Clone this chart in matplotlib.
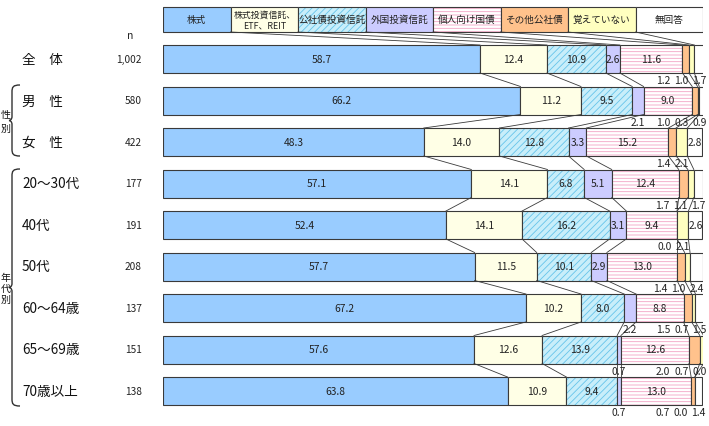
import numpy as np
import matplotlib
matplotlib.use('Agg')
import matplotlib.pyplot as plt
from matplotlib import transforms
from matplotlib.path import Path
from matplotlib.patches import PathPatch

plt.rcParams['font.family'] = ['Noto Sans CJK JP', 'DejaVu Sans']
plt.rcParams['hatch.linewidth'] = 0.6

# ---------------- data ----------------
categories = ['株式', '株式投資信託、\nETF、REIT', '公社債投資信託', '外国投資信託',
              '個人向け国債', 'その他公社債', '覚えていない', '無回答']
row_labels = ['全　体', '男　性', '女　性', '20～30代', '40代', '50代',
              '60～64歳', '65～69歳', '70歳以上']
n_values = ['1,002', '580', '422', '177', '191', '208', '137', '151', '138']
kabushiki = [58.7, 66.2, 48.3, 57.1, 52.4, 57.7, 67.2, 57.6, 63.8]
kabu_toushin = [12.4, 11.2, 14.0, 14.1, 14.1, 11.5, 10.2, 12.6, 10.9]
koshasai_toushin = [10.9, 9.5, 12.8, 6.8, 16.2, 10.1, 8.0, 13.9, 9.4]
gaikoku_toushin = [2.6, 2.1, 3.3, 5.1, 3.1, 2.9, 2.2, 0.7, 0.7]
kojin_kokusai = [11.6, 9.0, 15.2, 12.4, 9.4, 13.0, 8.8, 12.6, 13.0]
sonota_koshasai = [1.2, 1.0, 1.4, 1.7, 0.0, 1.4, 1.5, 2.0, 0.7]
oboete_inai = [1.0, 0.3, 2.1, 1.1, 2.1, 1.0, 0.7, 0.7, 0.0]
mukaito = [1.7, 0.9, 2.8, 1.7, 2.6, 2.4, 1.5, 0.0, 1.4]
group_labels = ['性\n別', '年\n代\n別']

series = [kabushiki, kabu_toushin, koshasai_toushin, gaikoku_toushin,
          kojin_kokusai, sonota_koshasai, oboete_inai, mukaito]

# ---------------- style ----------------
faces = ['#99CCFF', '#FFFFE6', '#C8EEFA', '#CCCCFF', '#FFFFFF', '#FFC28C', '#FFFFC0', '#FFFFFF']
hatches = [None, None, '/////', None, '-----', None, None, None]
hatch_cols = [None, None, '#66C4EA', None, '#F3A2C4', None, None, None]
edge = '#3A3A3A'

W, H = 709, 427
fig = plt.figure(figsize=(W / 100, H / 100), dpi=100)
fig.patch.set_facecolor('white')

ov = fig.add_axes([0, 0, 1, 1])
ov.set_xlim(0, W)
ov.set_ylim(H, 0)
ov.axis('off')

row_y0, row_step = 60.0, 41.5
ax = fig.add_axes([163 / W, 0, 540 / W, 1])
ax.set_xlim(0, 100)
ax.set_ylim((H - row_y0) / row_step, -row_y0 / row_step)
ax.axis('off')
ax.patch.set_alpha(0)

nrow = len(row_labels)
y = np.arange(nrow)
bh = 28 / row_step
data = np.array(series)  # (8, nrow)
cum = np.vstack([np.zeros(nrow), np.cumsum(data, axis=0)])  # (9, nrow)

# legend boxes (as bars)
leg_y = (20.5 - row_y0) / row_step
leg_h = 25 / row_step
leg_w = 100 / len(categories)
for k, cat in enumerate(categories):
    kw = dict(height=leg_h, left=k * leg_w, color=faces[k], linewidth=0)
    if hatches[k]:
        kw.update(hatch=hatches[k], edgecolor=hatch_cols[k])
    ax.barh(leg_y, leg_w, **kw)
    ax.barh(leg_y, leg_w, height=leg_h, left=k * leg_w, fill=False,
            edgecolor=edge, linewidth=0.8)
    fs = 6.4 if '\n' in cat else 6.9
    ax.text(k * leg_w + leg_w / 2, leg_y, cat, ha='center', va='center',
            fontsize=fs, color='#222222', linespacing=1.25)

# bars
for j in range(len(series)):
    kw = dict(height=bh, left=cum[j], color=faces[j], linewidth=0)
    if hatches[j]:
        kw.update(hatch=hatches[j], edgecolor=hatch_cols[j])
    ax.barh(y, data[j], **kw)
    ax.barh(y, data[j], height=bh, left=cum[j], fill=False,
            edgecolor=edge, linewidth=0.8)

# connector lines
lc = dict(color='#3A3A3A', linewidth=0.6, zorder=1)
for k in range(1, len(series)):
    ax.plot([k * leg_w, cum[k, 0]], [leg_y + leg_h / 2, 0 - bh / 2], **lc)
    for i in range(nrow - 1):
        ax.plot([cum[k, i], cum[k, i + 1]], [i + bh / 2, i + 1 - bh / 2], **lc)

# value labels
gap = 18 / 5.4
for i in range(nrow):
    small = []
    for j in range(len(series)):
        v = data[j, i]
        c = cum[j, i] + v / 2
        if v >= 2.5:
            ax.text(c, i, f'{v:.1f}', ha='center', va='center',
                    fontsize=7.4, color='#222222')
        else:
            small.append((c, v))
    xs = [0] * len(small)
    nxt = 99.3 + gap
    for m in range(len(small) - 1, -1, -1):
        xs[m] = min(small[m][0], nxt - gap, 99.3)
        nxt = xs[m]
    for (c, v), xx in zip(small, xs):
        ax.text(xx, i + bh / 2 + 0.18, f'{v:.1f}', ha='center', va='center',
                fontsize=7.4, color='#222222')

# left labels
trans = transforms.blended_transform_factory(ov.transData, ax.transData)
for i in range(nrow):
    ax.text(22, i, row_labels[i], transform=trans, ha='left', va='center',
            fontsize=9.8, color='#111111')
    ax.text(142, i, n_values[i], transform=trans, ha='right', va='center',
            fontsize=7.3, color='#222222')
ov.text(130, 36, 'n', ha='center', va='center', fontsize=7.5, color='#222222')


def brace(top, bot, xv=12, xh=20, xn=9):
    mid = (top + bot) / 2
    verts = [(xh, top), (xv + 1, top), (xv, top + 2), (xv, top + 7),
             (xv, mid - 4),
             (xv, mid - 1), (xn + 1, mid), (xn, mid),
             (xn + 1, mid), (xv, mid + 1), (xv, mid + 4),
             (xv, bot - 7),
             (xv, bot - 2), (xv + 1, bot), (xh, bot)]
    codes = [Path.MOVETO, Path.CURVE4, Path.CURVE4, Path.CURVE4,
             Path.LINETO,
             Path.CURVE4, Path.CURVE4, Path.CURVE4,
             Path.CURVE4, Path.CURVE4, Path.CURVE4,
             Path.LINETO,
             Path.CURVE4, Path.CURVE4, Path.CURVE4]
    ov.add_patch(PathPatch(Path(verts, codes), facecolor='none',
                           edgecolor='#333333', linewidth=1.0))

brace(86, 157)
brace(170, 407)
ov.text(1, 122, group_labels[0], ha='left', va='center', fontsize=7.2,
        color='#111111', linespacing=1.4)
ov.text(1, 289, group_labels[1], ha='left', va='center', fontsize=7.2,
        color='#111111', linespacing=1.15)

fig.savefig('out.png', dpi=100, facecolor='white')
